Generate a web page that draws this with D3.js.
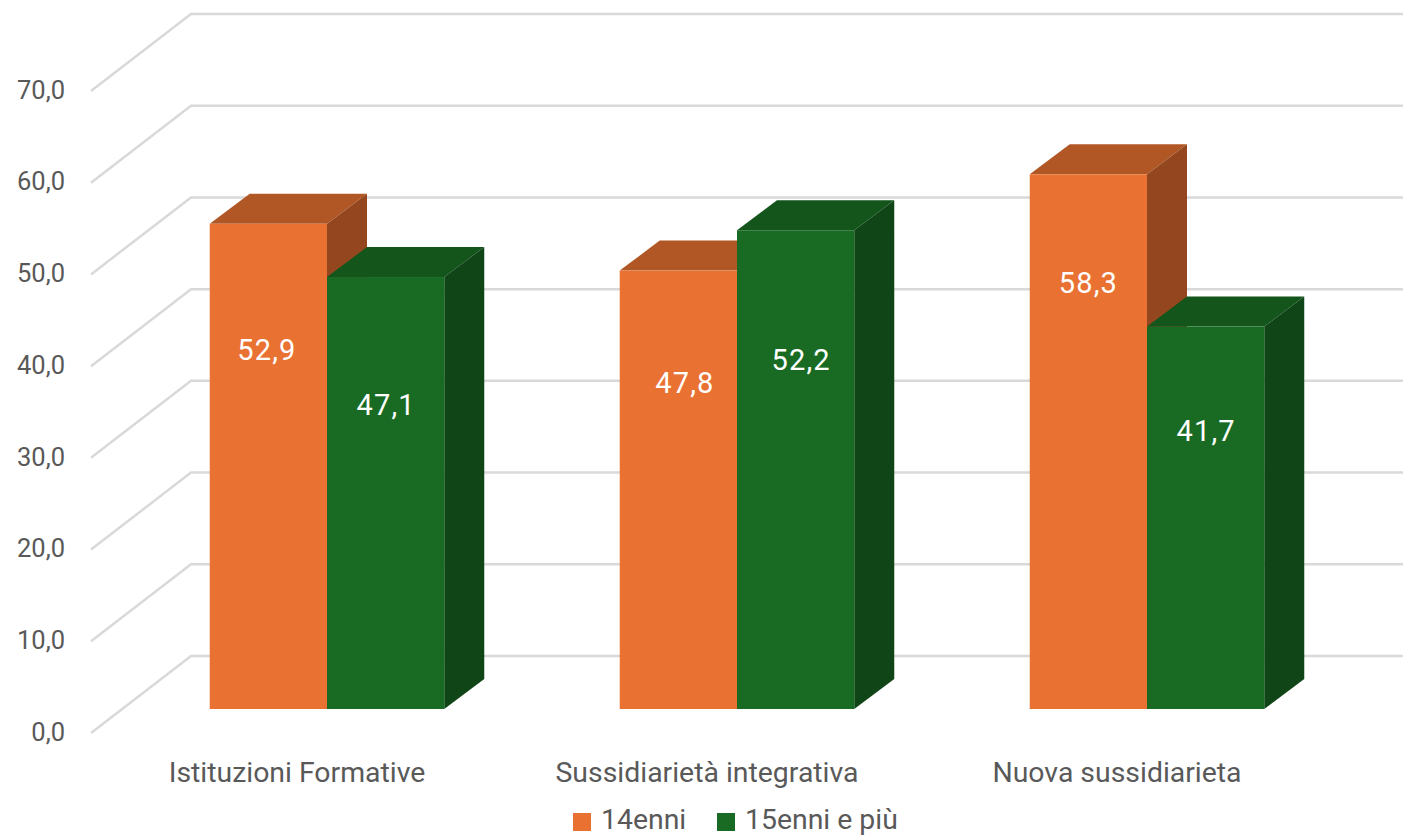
<!DOCTYPE html>
<html>
<head>
<meta charset="utf-8">
<script src="https://cdn.jsdelivr.net/npm/d3@7"></script>
<style>
  html, body { margin: 0; background: #fff; }
  svg { display: block; font-family: Roboto, sans-serif; }
  text { font-size: 28.4px; fill: #595959; }
  .axis .domain, .axis line { display: none; }
  .value { fill: #fff; text-anchor: middle; font-size: 29px; letter-spacing: 1.2px; }
</style>
</head>
<body>
<svg id="chart"></svg>
<script>
const WIDTH = 1403;
const HEIGHT = 836;

const categories = ['Istituzioni Formative', 'Sussidiarietà integrativa', 'Nuova sussidiarieta'];
const seriesNames = ['14enni', '15enni e più'];
const values14 = [52.9, 47.8, 58.3];
const values15 = [47.1, 52.2, 41.7];
const yTicks = [0, 10, 20, 30, 40, 50, 60, 70];

const colors = ['#E97132', '#196B24'];
const topColors = ['#B05725', '#13551B'];
const sideColors = ['#94471F', '#104518'];

// Depth of the bars and of the floor, the picture is a fake 3D column chart.
const BAR_DX = 40, BAR_DY = -30;
const WALL_DX = 100, WALL_DY = -77;
const FLOOR_DX = 31, FLOOR_DY = 24;

// The value labels were moved by hand in the original, so they sit off centre.
const labelShift = [[-1.5, 0.5], [6.5, 5.5], [0, 0.5]];
const labelY = [[350, 405], [383, 360], [283, 431]];

const svg = d3.select('#chart').attr('width', WIDTH).attr('height', HEIGHT);

const fmt = d3.formatLocale({decimal: ',', thousands: '.', grouping: [3], currency: ['', ' €']}).format('.1f');

const y = d3.scaleLinear().domain([0, 70]).range([709, 67]);
const x0 = d3.scaleBand().domain(categories).range([122, 1352]).paddingInner(0.428).paddingOuter(0.214);
const x1 = d3.scaleBand().domain(seriesNames).range([0, x0.bandwidth()]);

// gridlines: side wall plus back wall
svg.append('g')
  .selectAll('path')
  .data(yTicks)
  .join('path')
  .attr('d', d => {
    const yy = y(d);
    return `M91,${yy + FLOOR_DY}L${91 + WALL_DX},${yy + FLOOR_DY + WALL_DY}H${WIDTH}`;
  })
  .attr('fill', 'none')
  .attr('stroke', '#D9D9D9')
  .attr('stroke-width', 2.5);

// y axis
svg.append('g')
  .attr('class', 'axis')
  .attr('transform', `translate(65,${FLOOR_DY - 1})`)
  .call(d3.axisLeft(y).tickValues(yTicks).tickSize(0).tickPadding(0).tickFormat(fmt))
  .call(g => g.selectAll('text').style('font-size', '25.5px').style('font-family', 'Roboto, sans-serif'));

// x axis
svg.append('g')
  .attr('class', 'axis')
  .attr('transform', `translate(${-FLOOR_DX + 1},761.5)`)
  .call(d3.axisBottom(x0).tickSize(0).tickPadding(0))
  .call(g => g.selectAll('text').style('font-size', '28.4px').style('font-family', 'Roboto, sans-serif'));

// bars
const rows = categories.map((c, i) => [values14[i], values15[i]]);
const groups = svg.append('g')
  .selectAll('g')
  .data(rows)
  .join('g')
  .attr('transform', (d, i) => `translate(${x0(categories[i])},0)`);

groups.each(function(row) {
  const g = d3.select(this);
  row.forEach((v, s) => {
    const left = x1(seriesNames[s]);
    const right = left + x1.bandwidth();
    const top = y(v);
    const base = y(0);
    g.append('path')
      .attr('d', `M${left},${top}L${left + BAR_DX},${top + BAR_DY}H${right + BAR_DX}L${right},${top}Z`)
      .attr('fill', topColors[s]);
    g.append('path')
      .attr('d', `M${right},${top}L${right + BAR_DX},${top + BAR_DY}V${base + BAR_DY}L${right},${base}Z`)
      .attr('fill', sideColors[s]);
    g.append('rect')
      .attr('x', left)
      .attr('y', top)
      .attr('width', right - left)
      .attr('height', base - top)
      .attr('fill', colors[s]);
  });
});

// value labels go last so a neighbouring bar can not cover them
groups.each(function(row, i) {
  const g = d3.select(this);
  row.forEach((v, s) => {
    g.append('text')
      .attr('class', 'value')
      .attr('x', x1(seriesNames[s]) + x1.bandwidth() / 2 + labelShift[i][s])
      .attr('y', labelY[i][s])
      .attr('dy', '0.36em')
      .text(fmt(v));
  });
});

// legend, baseline a bit high so the descender of "più" stays inside the page
const legendX = [573, 717];
const legend = svg.append('g')
  .selectAll('g')
  .data(seriesNames)
  .join('g')
  .attr('transform', (d, i) => `translate(${legendX[i]},813)`);
legend.append('rect')
  .attr('width', 18)
  .attr('height', 18)
  .attr('fill', (d, i) => colors[i]);
legend.append('text')
  .attr('x', 28)
  .attr('y', 16)
  .text(d => d);
</script>
</body>
</html>
